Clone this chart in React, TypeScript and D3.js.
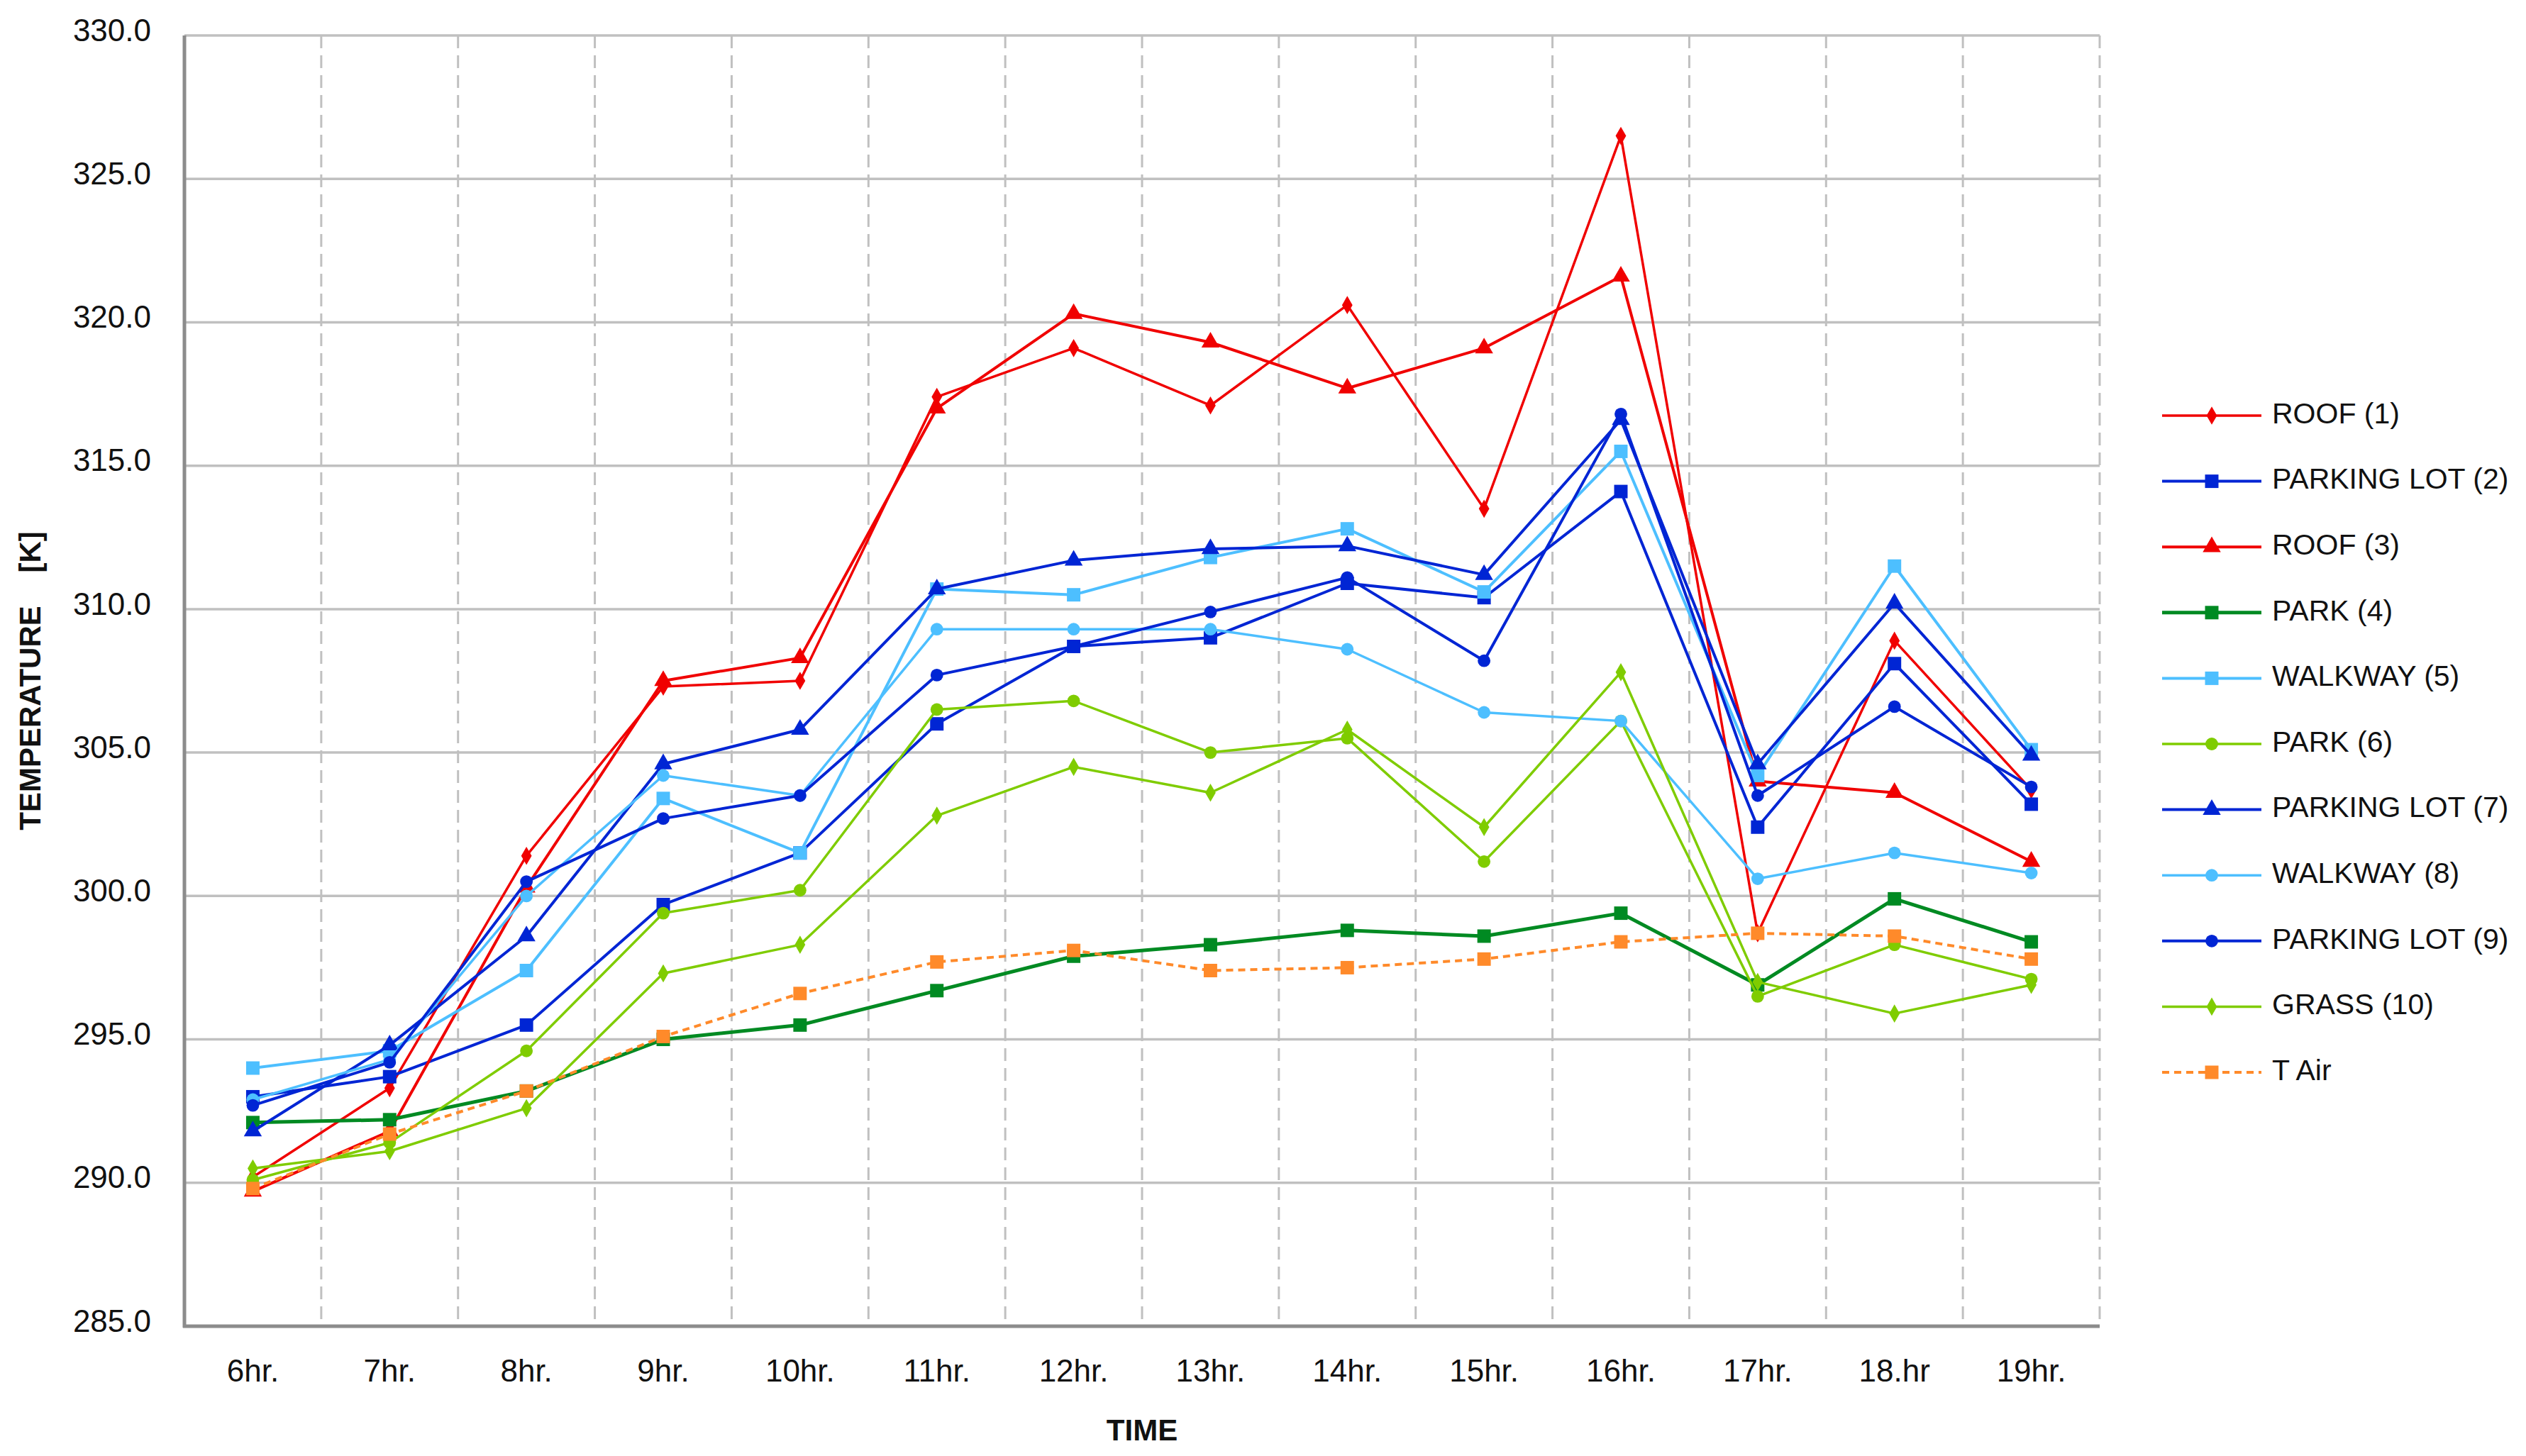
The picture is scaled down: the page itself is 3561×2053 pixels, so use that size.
import React, { useEffect, useRef } from 'react';
import * as d3 from 'd3';

const hours = ['6hr.', '7hr.', '8hr.', '9hr.', '10hr.', '11hr.', '12hr.', '13hr.', '14hr.', '15hr.', '16hr.', '17hr.', '18.hr', '19hr.'];
const yTicks = [285, 290, 295, 300, 305, 310, 315, 320, 325, 330];

const roof1 = [290.2, 293.3, 301.4, 307.3, 307.5, 317.4, 319.1, 317.1, 320.6, 313.5, 326.5, 298.7, 308.9, 303.7];
const parkingLot2 = [293.0, 293.7, 295.5, 299.7, 301.5, 306.0, 308.7, 309.0, 310.9, 310.4, 314.1, 302.4, 308.1, 303.2];
const roof3 = [289.7, 291.8, 300.3, 307.5, 308.3, 317.0, 320.3, 319.3, 317.7, 319.1, 321.6, 304.0, 303.6, 301.2];
const park4 = [292.1, 292.2, 293.2, 295.0, 295.5, 296.7, 297.9, 298.3, 298.8, 298.6, 299.4, 296.9, 299.9, 298.4];
const walkway5 = [294.0, 294.6, 297.4, 303.4, 301.5, 310.7, 310.5, 311.8, 312.8, 310.6, 315.5, 304.2, 311.5, 305.1];
const park6 = [290.1, 291.4, 294.6, 299.4, 300.2, 306.5, 306.8, 305.0, 305.5, 301.2, 306.1, 296.5, 298.3, 297.1];
const parkingLot7 = [291.8, 294.8, 298.6, 304.6, 305.8, 310.7, 311.7, 312.1, 312.2, 311.2, 316.6, 304.6, 310.2, 304.9];
const walkway8 = [292.9, 294.3, 300.0, 304.2, 303.5, 309.3, 309.3, 309.3, 308.6, 306.4, 306.1, 300.6, 301.5, 300.8];
const parkingLot9 = [292.7, 294.2, 300.5, 302.7, 303.5, 307.7, 308.7, 309.9, 311.1, 308.2, 316.8, 303.5, 306.6, 303.8];
const grass10 = [290.5, 291.1, 292.6, 297.3, 298.3, 302.8, 304.5, 303.6, 305.8, 302.4, 307.8, 297.0, 295.9, 296.9];
const tAir = [289.8, 291.7, 293.2, 295.1, 296.6, 297.7, 298.1, 297.4, 297.5, 297.8, 298.4, 298.7, 298.6, 297.8];

const RED = '#f00000';
const BLUE = '#0025d4';
const DKGREEN = '#008a22';
const LTBLUE = '#4dbfff';
const YGREEN = '#7fcc00';
const ORANGE = '#ff8a2a';

interface Series {
  name: string;
  values: number[];
  color: string;
  marker: d3.SymbolType;
  size: number;
  width: number;
  dashed?: boolean;
}

const series: Series[] = [
  { name: 'ROOF (1)', values: roof1, color: RED, marker: d3.symbolDiamond, size: 190, width: 3.5 },
  { name: 'PARKING LOT (2)', values: parkingLot2, color: BLUE, marker: d3.symbolSquare, size: 360, width: 4 },
  { name: 'ROOF (3)', values: roof3, color: RED, marker: d3.symbolTriangle, size: 280, width: 4 },
  { name: 'PARK (4)', values: park4, color: DKGREEN, marker: d3.symbolSquare, size: 360, width: 5 },
  { name: 'WALKWAY (5)', values: walkway5, color: LTBLUE, marker: d3.symbolSquare, size: 360, width: 4 },
  { name: 'PARK (6)', values: park6, color: YGREEN, marker: d3.symbolCircle, size: 250, width: 3.5 },
  { name: 'PARKING LOT (7)', values: parkingLot7, color: BLUE, marker: d3.symbolTriangle, size: 280, width: 4 },
  { name: 'WALKWAY (8)', values: walkway8, color: LTBLUE, marker: d3.symbolCircle, size: 250, width: 3.5 },
  { name: 'PARKING LOT (9)', values: parkingLot9, color: BLUE, marker: d3.symbolCircle, size: 250, width: 4 },
  { name: 'GRASS (10)', values: grass10, color: YGREEN, marker: d3.symbolDiamond, size: 190, width: 3.5 },
  { name: 'T Air', values: tAir, color: ORANGE, marker: d3.symbolSquare, size: 360, width: 4, dashed: true },
];

const W = 3561;
const H = 2053;
const FONT = '"Liberation Sans", Arial, sans-serif';

export default function App() {
  const svgRef = useRef<SVGSVGElement>(null);

  useEffect(() => {
    if (!svgRef.current) return;
    const svg = d3.select(svgRef.current);
    svg.selectAll('*').remove();

    const left = 260, right = 2960, top = 50, bottom = 1870;

    const x = d3.scaleBand<string>().domain(hours).range([left, right]).padding(0);
    const y = d3.scaleLinear().domain([285, 330]).range([bottom, top]);
    const cx = (i: number) => (x(hours[i]) as number) + x.bandwidth() / 2;

    svg.append('rect').attr('width', W).attr('height', H).attr('fill', '#fff');

    // horizontal grid
    svg.append('g')
      .selectAll('line')
      .data(yTicks.filter((t) => t > 285))
      .join('line')
      .attr('x1', left).attr('x2', right)
      .attr('y1', (d) => y(d)).attr('y2', (d) => y(d))
      .attr('stroke', '#c0c0c0')
      .attr('stroke-width', 3.5);

    // vertical dashed grid at category boundaries
    svg.append('g')
      .selectAll('line')
      .data(hours.slice(1).concat(['end']))
      .join('line')
      .attr('x1', (d) => (d === 'end' ? right : (x(d) as number)))
      .attr('x2', (d) => (d === 'end' ? right : (x(d) as number)))
      .attr('y1', top).attr('y2', bottom)
      .attr('stroke', '#c0c0c0')
      .attr('stroke-width', 3)
      .attr('stroke-dasharray', '18,10');

    // axes
    svg.append('line')
      .attr('x1', left).attr('x2', left).attr('y1', top).attr('y2', bottom + 2)
      .attr('stroke', '#8c8c8c').attr('stroke-width', 5);
    svg.append('line')
      .attr('x1', left - 2).attr('x2', right).attr('y1', bottom).attr('y2', bottom)
      .attr('stroke', '#8c8c8c').attr('stroke-width', 5);

    // y tick labels
    svg.append('g')
      .selectAll('text')
      .data(yTicks)
      .join('text')
      .attr('x', 213)
      .attr('y', (d) => y(d) - 4)
      .attr('text-anchor', 'end')
      .attr('dominant-baseline', 'middle')
      .attr('font-family', FONT)
      .attr('font-size', 44)
      .attr('fill', '#111')
      .text((d) => d.toFixed(1));

    // x tick labels
    svg.append('g')
      .selectAll('text')
      .data(hours)
      .join('text')
      .attr('x', (_, i) => cx(i))
      .attr('y', 1936)
      .attr('text-anchor', 'middle')
      .attr('dominant-baseline', 'middle')
      .attr('font-family', FONT)
      .attr('font-size', 44)
      .attr('fill', '#111')
      .text((d) => d);

    // axis titles
    svg.append('text')
      .attr('transform', `translate(46,${(top + bottom) / 2}) rotate(-90)`)
      .attr('text-anchor', 'middle')
      .attr('dominant-baseline', 'middle')
      .attr('font-family', FONT)
      .attr('font-size', 42)
      .attr('font-weight', 'bold')
      .attr('fill', '#111')
      .style('white-space', 'pre')
      .text('TEMPERATURE    [K]');

    svg.append('text')
      .attr('x', (left + right) / 2)
      .attr('y', 2020)
      .attr('text-anchor', 'middle')
      .attr('dominant-baseline', 'middle')
      .attr('font-family', FONT)
      .attr('font-size', 42)
      .attr('font-weight', 'bold')
      .attr('fill', '#111')
      .text('TIME');

    // series
    const line = d3.line<number>().x((_, i) => cx(i)).y((d) => y(d));
    series.forEach((s) => {
      const g = svg.append('g');
      g.append('path')
        .datum(s.values)
        .attr('fill', 'none')
        .attr('stroke', s.color)
        .attr('stroke-width', s.width)
        .attr('stroke-linejoin', 'round')
        .attr('stroke-dasharray', s.dashed ? '10,7' : null)
        .attr('d', line);
      g.selectAll('path.m')
        .data(s.values)
        .join('path')
        .attr('class', 'm')
        .attr('transform', (d, i) => `translate(${cx(i)},${y(d)})`)
        .attr('d', d3.symbol().type(s.marker).size(s.size)())
        .attr('fill', s.color);
    });

    // legend
    const legend = svg.append('g');
    series.forEach((s, i) => {
      const ly = 586 + i * 92.6;
      legend.append('line')
        .attr('x1', 3048).attr('x2', 3188).attr('y1', ly).attr('y2', ly)
        .attr('stroke', s.color)
        .attr('stroke-width', s.width)
        .attr('stroke-dasharray', s.dashed ? '10,7' : null);
      legend.append('path')
        .attr('transform', `translate(3118,${ly})`)
        .attr('d', d3.symbol().type(s.marker).size(s.size)())
        .attr('fill', s.color);
      legend.append('text')
        .attr('x', 3203)
        .attr('y', ly)
        .attr('dominant-baseline', 'middle')
        .attr('font-family', FONT)
        .attr('font-size', 41)
        .attr('fill', '#111')
        .text(s.name);
    });
  }, []);

  return (
    <svg
      ref={svgRef}
      width={W}
      height={H}
      viewBox={`0 0 ${W} ${H}`}
      style={{ position: 'absolute', left: 0, top: 0, display: 'block' }}
    />
  );
}
